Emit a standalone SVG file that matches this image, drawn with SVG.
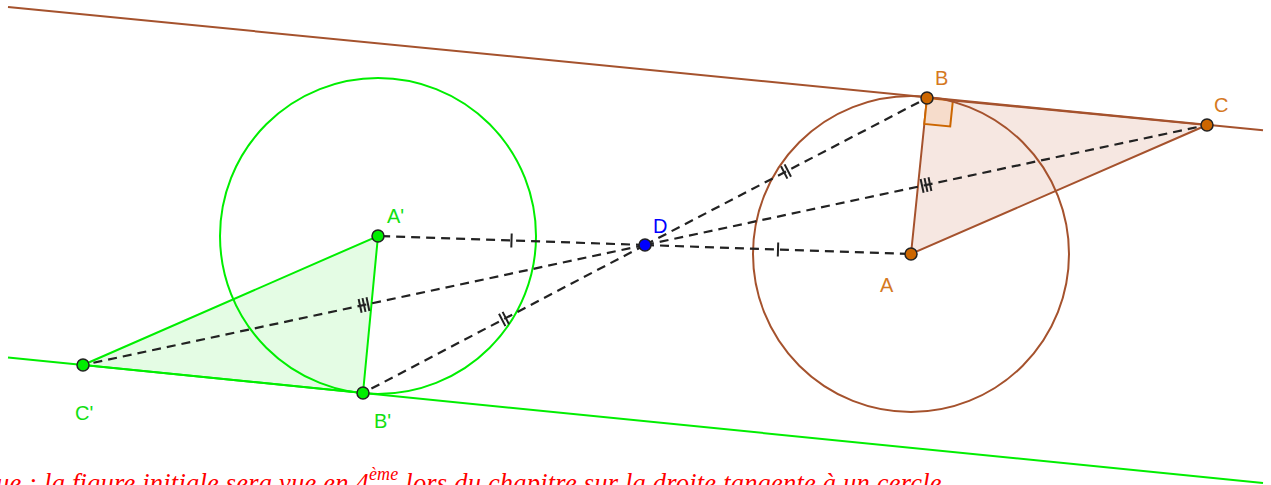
<svg xmlns="http://www.w3.org/2000/svg" width="1271" height="485" viewBox="0 0 1271 485">
<style>
.brown{stroke:#a5522d;stroke-width:2;fill:none}
.green{stroke:#00ee00;stroke-width:2;fill:none}
.dash{stroke:#222;stroke-width:2.2;stroke-dasharray:9,6;fill:none}
.tick{stroke:#222;stroke-width:2;fill:none}
.pto{fill:#cc6600;stroke:#222;stroke-width:1.5}
.ptg{fill:#00ee00;stroke:#222;stroke-width:1.5}
.ptb{fill:#0000ff;stroke:#222;stroke-width:1.5}
.lbl{font-family:"Liberation Sans",Arial,sans-serif;font-size:20px}
.lo{fill:#d5791f}
.lg{fill:#11e011}
.lb{fill:#0000ff}
.note{font-family:"Liberation Serif","Times New Roman",serif;font-style:italic;font-size:26.5px;letter-spacing:0.2px;fill:#ff0000}
</style>
<rect width="1271" height="485" fill="#ffffff"/>
<g id="shapes">
<polygon id="triABC" points="911,254 927,98 1207,125" fill="#f6e7e1" stroke="#a5522d" stroke-width="2"/>
<polygon id="rightangle" points="927,98 952.9,100.5 950.2,126.4 924.3,123.9" fill="#f6dccb" stroke="#cc6600" stroke-width="2"/>
<polygon id="triA2B2C2" points="378,236 363,393 83,365" fill="#e4fce4" stroke="#00ee00" stroke-width="2"/>
<circle id="circleA" cx="911" cy="254" r="158" class="brown"/>
<circle id="circleA2" cx="378" cy="236" r="158" class="green"/>
<line id="lineBC" x1="8" y1="7" x2="1263" y2="130.2" class="brown"/>
<line id="lineB2C2" x1="8" y1="357.5" x2="1263" y2="483" class="green"/>
</g>
<g id="connectors">
<line x1="645" y1="245" x2="911" y2="254" class="dash"/>
<line x1="645" y1="245" x2="378" y2="236" class="dash"/>
<line x1="645" y1="245" x2="927" y2="98" class="dash"/>
<line x1="645" y1="245" x2="363" y2="393" class="dash"/>
<line x1="645" y1="245" x2="1207" y2="125" class="dash"/>
<line x1="645" y1="245" x2="83" y2="365" class="dash"/>
<path class="tick" d="M511.7,233.5L511.3,247.5M778.2,242.5L777.8,256.5"/>
<path class="tick" d="M781,166.2L787.4,178.6M784.6,164.4L791,176.8M499,313.7L505.4,326.1M502.6,311.9L509,324.3"/>
<path class="tick" d="M920.6,179L923.6,192.7M924.5,178.1L927.5,191.9M928.5,177.3L931.4,191M358.6,299L361.6,312.7M362.5,298.1L365.5,311.9M366.5,297.3L369.4,311"/>
</g>
<g id="A"><circle cx="911" cy="254" r="6" class="pto"/><text x="880" y="292" class="lbl lo">A</text></g>
<g id="B"><circle cx="927" cy="98" r="6" class="pto"/><text x="935" y="85" class="lbl lo">B</text></g>
<g id="C"><circle cx="1207" cy="125" r="6" class="pto"/><text x="1214" y="112" class="lbl lo">C</text></g>
<g id="D"><circle cx="645" cy="245" r="6" class="ptb"/><text x="653" y="233" class="lbl lb">D</text></g>
<g id="A2"><circle cx="378" cy="236" r="6" class="ptg"/><text x="387" y="223" class="lbl lg">A'</text></g>
<g id="B2"><circle cx="363" cy="393" r="6" class="ptg"/><text x="374" y="428" class="lbl lg">B'</text></g>
<g id="C2"><circle cx="83" cy="365" r="6" class="ptg"/><text x="75" y="420" class="lbl lg">C'</text></g>
<text class="note" x="-4" y="492">ue : la figure initiale sera vue en 4<tspan dy="-12" font-size="18">ème</tspan><tspan dy="12"> lors du chapitre sur la droite tangente à un cercle</tspan></text>
</svg>
